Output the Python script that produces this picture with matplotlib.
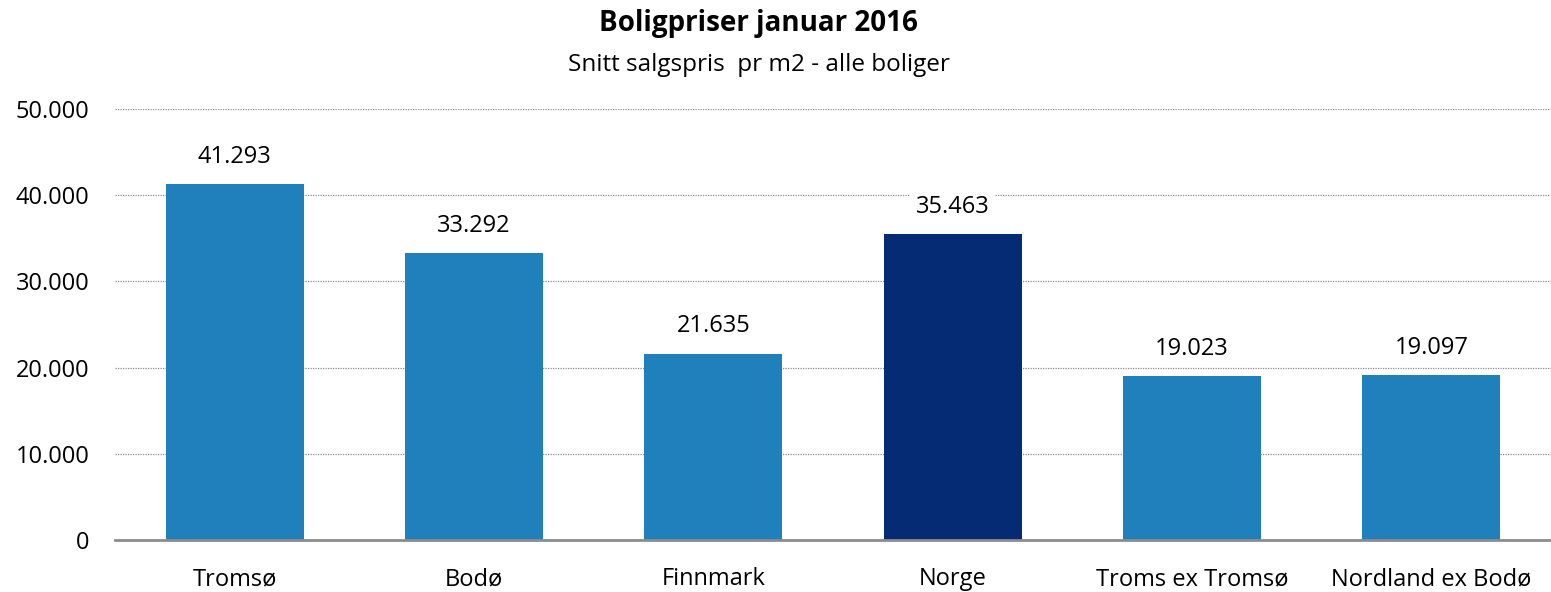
import matplotlib.pyplot as plt
from matplotlib.ticker import FuncFormatter

plt.rcParams["font.family"] = ["Open Sans", "DejaVu Sans"]

# Data
categories = ["Tromsø", "Bodø", "Finnmark", "Norge", "Troms ex Tromsø", "Nordland ex Bodø"]
values = [41293, 33292, 21635, 35463, 19023, 19097]
bar_colors = ["#1f80bb", "#1f80bb", "#1f80bb", "#042b73", "#1f80bb", "#1f80bb"]
yticks = [0, 10000, 20000, 30000, 40000, 50000]


def dot_fmt(v, pos=None):
    return f"{int(round(v)):,}".replace(",", ".")


fig = plt.figure(figsize=(15.51, 5.92), dpi=100)
ax = fig.add_axes([0.0741, 0.0878, 0.9259, 0.7281])

x = range(len(categories))
ax.bar(x, values, width=0.577, color=bar_colors, zorder=2)

for xi, v in zip(x, values):
    ax.annotate(
        dot_fmt(v),
        (xi, v),
        xytext=(0, 19.5),
        textcoords="offset points",
        ha="center",
        va="center",
        fontsize=17,
        zorder=4,
        bbox=dict(boxstyle="square,pad=0.25", fc="white", ec="none"),
    )

ax.set_xlim(-0.5, len(categories) - 0.5)
ax.set_ylim(0, 50000)
ax.set_yticks(yticks)
ax.yaxis.set_major_formatter(FuncFormatter(dot_fmt))
ax.set_xticks(list(x))
ax.set_xticklabels(categories)
ax.tick_params(axis="both", length=0, labelsize=17)
ax.tick_params(axis="x", pad=19.5)
ax.tick_params(axis="y", pad=18.5)

ax.grid(axis="y", color="#8c8c8c", linestyle=(0, (1, 1)), linewidth=0.9, zorder=0)
ax.set_axisbelow(True)
for side in ["top", "right", "left"]:
    ax.spines[side].set_visible(False)
ax.spines["bottom"].set_color("#8c8c8c")
ax.spines["bottom"].set_linewidth(2)
ax.spines["bottom"].set_zorder(3)

fig.text(0.489, 0.96, "Boligpriser januar 2016", ha="center", va="center",
         fontsize=20, fontweight="bold")
fig.text(0.489, 0.89, "Snitt salgspris  pr m2 - alle boliger", ha="center",
         va="center", fontsize=17.5)

plt.savefig("out.png", dpi=100)
plt.close()
